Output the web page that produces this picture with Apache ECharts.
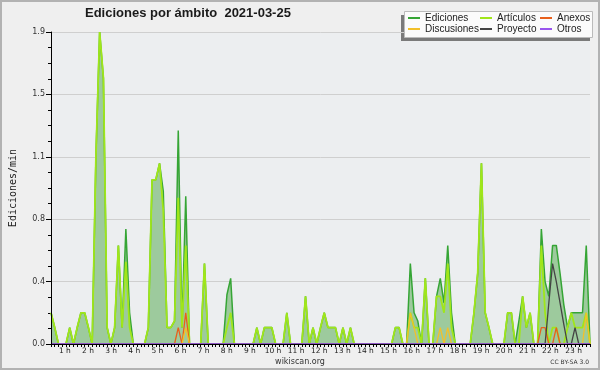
<!DOCTYPE html>
<html><head><meta charset="utf-8">
<script src="https://cdn.jsdelivr.net/npm/echarts@6/dist/echarts.min.js"></script>
<style>html,body{margin:0;padding:0;background:#efefef}#c{width:600px;height:370px}</style>
</head><body><div id="c"></div><script>
// 10-minute slots 0..144 (00:00 .. 24:00), values in edits/min
const ediciones = [
 0.19,0.1,0,0,0,0.1,0,0.1,0.19,0.19,0.1,0,
 1.14,1.9,1.62,0.1,0,0.1,0.6,0.1,0.7,0.19,0,0,
 0,0,0.1,1.0,1.0,1.1,0.93,0.1,0.1,0.14,1.3,0.1,
 0.9,0,0,0,0,0.49,0,0,0,0,0,0.3,
 0.4,0,0,0,0,0,0,0.1,0,0.1,0.1,0.1,
 0,0,0,0.19,0,0,0,0,0.29,0,0.1,0,
 0.1,0.19,0.1,0.1,0.1,0,0.1,0,0.1,0,0,0,
 0,0,0,0,0,0,0,0,0.1,0.1,0,0,
 0.49,0.19,0.14,0,0.4,0,0,0.29,0.4,0.25,0.6,0.19,
 0,0,0,0,0,0.19,0.43,1.1,0.19,0.1,0,0,
 0,0,0.19,0.19,0,0.14,0.29,0.1,0.19,0,0,0.7,
 0.38,0.29,0.6,0.6,0.43,0.24,0.1,0.19,0.19,0.19,0.19,0.6,
 0
];
const articulos = [
 0.19,0.1,0,0,0,0.1,0,0.1,0.19,0.19,0.1,0,
 1.14,1.9,1.62,0.1,0,0.1,0.6,0.1,0.5,0.1,0,0,
 0,0,0.1,1.0,1.0,1.1,0.81,0.1,0.1,0.14,0.89,0.1,
 0.6,0,0,0,0,0.49,0,0,0,0,0,0.1,
 0.19,0,0,0,0,0,0,0.1,0,0.1,0.1,0.1,
 0,0,0,0.19,0,0,0,0,0.29,0,0.1,0,
 0.1,0.19,0.1,0.1,0.1,0,0.1,0,0.1,0,0,0,
 0,0,0,0,0,0,0,0,0.1,0.1,0,0,
 0.19,0.1,0.1,0,0.4,0,0,0.29,0.29,0.19,0.49,0.1,
 0,0,0,0,0,0.19,0.43,1.1,0.19,0.1,0,0,
 0,0,0.19,0.19,0,0,0.29,0.1,0.19,0,0,0.6,
 0.19,0,0.1,0.1,0,0,0.1,0.19,0.1,0.1,0.1,0.19,
 0
];
const anexos = [
 0,0,0,0,0,0,0,0,0,0,0,0,
 0,0,0,0,0,0,0,0,0,0,0,0,
 0,0,0,0,0,0,0,0,0,0,0.1,0,
 0.19,0,0,0,0,0,0,0,0,0,0,0,
 0,0,0,0,0,0,0,0,0,0,0,0,
 0,0,0,0,0,0,0,0,0,0,0,0,
 0,0,0,0,0,0,0,0,0,0,0,0,
 0,0,0,0,0,0,0,0,0,0,0,0,
 0,0,0,0,0,0,0,0,0,0,0,0,
 0,0,0,0,0,0,0,0,0,0,0,0,
 0,0,0,0,0,0,0,0,0,0,0,0.1,
 0.1,0,0,0.1,0,0,0,0,0,0,0,0,
 0
];
const discusiones = [
 0,0,0,0,0,0,0,0,0,0,0,0,
 0,0,0,0,0,0,0,0,0,0,0,0,
 0,0,0,0,0,0,0,0,0,0,0,0,
 0.1,0,0,0,0,0,0,0,0,0,0,0,
 0,0,0,0,0,0,0,0,0,0,0,0,
 0,0,0,0,0,0,0,0,0,0,0,0,
 0,0,0,0,0,0,0,0,0,0,0,0,
 0,0,0,0,0,0,0,0,0,0,0,0,
 0.19,0.1,0,0,0,0,0,0,0.1,0,0.1,0,
 0,0,0,0,0,0,0,0,0,0,0,0,
 0,0,0,0,0,0,0,0,0,0,0,0,
 0,0,0,0,0,0,0,0,0,0,0,0.19,
 0
];
const proyecto = [
 0,0,0,0,0,0,0,0,0,0,0,0,
 0,0,0,0,0,0,0,0,0,0,0,0,
 0,0,0,0,0,0,0,0,0,0,0,0,
 0,0,0,0,0,0,0,0,0,0,0,0,
 0,0,0,0,0,0,0,0,0,0,0,0,
 0,0,0,0,0,0,0,0,0,0,0,0,
 0,0,0,0,0,0,0,0,0,0,0,0,
 0,0,0,0,0,0,0,0,0,0,0,0,
 0,0,0,0,0,0,0,0,0,0,0,0,
 0,0,0,0,0,0,0,0,0,0,0,0,
 0,0,0,0,0,0,0,0,0,0,0,0,
 0,0.25,0.49,0.38,0.25,0.12,0,0,0.1,0,0,0,
 0
];
const otros = [
 0,0,0,0,0,0,0,0,0,0,0,0,
 0,0,0,0,0,0,0,0,0,0,0,0,
 0,0,0,0,0,0,0,0,0,0,0,0,
 0,0,0,0,0,0,0,0,0,0,0,0,
 0,0,0,0,0,0,0,0,0,0,0,0,
 0,0,0,0,0,0,0,0,0,0,0,0,
 0,0,0,0,0,0,0,0,0,0,0,0,
 0,0,0,0,0,0,0,0,0,0,0,0,
 0,0,0,0,0,0,0,0,0,0,0,0,
 0,0,0,0,0,0,0,0,0,0,0,0,
 0,0,0,0,0,0,0,0,0,0,0,0,
 0,0,0,0,0,0,0,0,0,0,0,0,
 0
];
const hourTicks = [1,2,3,4,5,6,7,8,9,10,11,12,13,14,15,16,17,18,19,20,21,22,23];
const yTickLabels = ['0.0','0.4','0.8','1.1','1.5','1.9'];
const seriesNames = ['Ediciones','Artículos','Anexos','Discusiones','Proyecto','Otros'];

const pairs = arr => arr.map((v, i) => [i, v]);
const colors = ['#35a535','#a0e61a','#e8601c','#f2c02a','#444444','#9955ee'];
const widths = [1.5, 1.8, 1.3, 1.3, 1.3, 1.3];
const dataSets = [ediciones, articulos, anexos, discusiones, proyecto, otros];

const chart = echarts.init(document.getElementById('c'), null, {renderer:'canvas'});
const series = dataSets.map((d, k) => {
  const s = {
    name: seriesNames[k], type: 'line', data: pairs(d), symbol: 'none',
    xAxisIndex: 0, yAxisIndex: 0,
    lineStyle: {color: colors[k], width: widths[k]},
    itemStyle: {color: colors[k]},
    z: 2 + (k === 0 ? 0 : k === 1 ? 1 : 2),
    animation: false
  };
  if (k === 0) s.areaStyle = {color: '#9dca9d', opacity: 1};
  return s;
});

const legendBase = {
  orient: 'vertical', top: 13, itemWidth: 12, itemHeight: 2, itemGap: 1, icon: 'rect',
  padding: 0, selectedMode: false,
  textStyle: {fontFamily: 'Liberation Sans', fontSize: 10, color: '#222', lineHeight: 10}
};

chart.setOption({
  animation: false,
  backgroundColor: '#efefef',
  title: {
    text: 'Ediciones por ámbito  2021-03-25', left: 85, top: 7, padding: 0,
    textStyle: {fontFamily: 'Liberation Sans', fontSize: 13, fontWeight: 'bold', color: '#1a1a1a'}
  },
  legend: [
    Object.assign({}, legendBase, {left: 408, data: [seriesNames[0], seriesNames[3]]}),
    Object.assign({}, legendBase, {left: 480, data: [seriesNames[1], seriesNames[4]]}),
    Object.assign({}, legendBase, {left: 540, data: [seriesNames[2], seriesNames[5]]})
  ],
  grid: {left: 47, top: 32, width: 543, height: 312, show: true, backgroundColor: '#eceef0', borderWidth: 0},
  xAxis: [
    {type: 'value', min: 0, max: 144, interval: 1, z: 10,
     axisLine: {show: true, lineStyle: {color: '#000', width: 1}},
     axisTick: {show: true, length: 3, lineStyle: {color: '#000'}},
     axisLabel: {show: false}, splitLine: {show: false}},
    {type: 'value', min: 0.4, max: 23.71, position: 'bottom', offset: 0, z: 10,
     axisLine: {show: false}, axisTick: {show: false}, splitLine: {show: false},
     axisLabel: {show: true, customValues: hourTicks, margin: 3,
       formatter: v => v + ' h', fontFamily: 'DejaVu Sans', fontSize: 7.5, color: '#222'}}
  ],
  yAxis: [
    {type: 'value', min: 0, max: 1.9, interval: 0.38,
     name: 'Ediciones/min', nameLocation: 'middle', nameGap: 33, nameRotate: 90,
     nameTextStyle: {fontFamily: 'DejaVu Sans Mono', fontSize: 10, color: '#222'},
     axisLine: {show: false},
     axisTick: {show: true, length: 5, lineStyle: {color: '#000'}},
     minorTick: {show: true, splitNumber: 4, length: 3, lineStyle: {color: '#000'}},
     axisLabel: {margin: 6, fontFamily: 'DejaVu Sans', fontSize: 8, color: '#333',
       formatter: v => yTickLabels[Math.round(v / 0.38)]},
     splitLine: {show: true, lineStyle: {color: '#cfcfcf', width: 1}}},
    {type: 'value', min: 0, max: 1.9, position: 'left', z: 10,
     axisLine: {show: true, lineStyle: {color: '#000', width: 1}},
     axisTick: {show: false}, axisLabel: {show: false}, splitLine: {show: false}}
  ],
  graphic: [
    {type: 'rect', shape: {x: 1, y: 1, width: 598, height: 368}, style: {fill: 'none', stroke: '#b2b2b2', lineWidth: 2}, z: 100},
    {type: 'rect', shape: {x: 401, y: 15, width: 189, height: 26}, style: {fill: '#7a7a7a'}, z: 0},
    {type: 'rect', shape: {x: 404.5, y: 11.5, width: 188, height: 26}, style: {fill: '#fbfbfb', stroke: '#bbbbbb', lineWidth: 1}, z: 1},
    {type: 'text', x: 300, y: 362, style: {text: 'wikiscan.org', textAlign: 'center', textVerticalAlign: 'middle', font: '8px "DejaVu Sans"', fill: '#333'}},
    {type: 'text', x: 589, y: 362.5, style: {text: 'CC BY-SA 3.0', textAlign: 'right', textVerticalAlign: 'middle', font: '6px "DejaVu Sans"', fill: '#333'}}
  ],
  series: series
});
</script></body></html>
